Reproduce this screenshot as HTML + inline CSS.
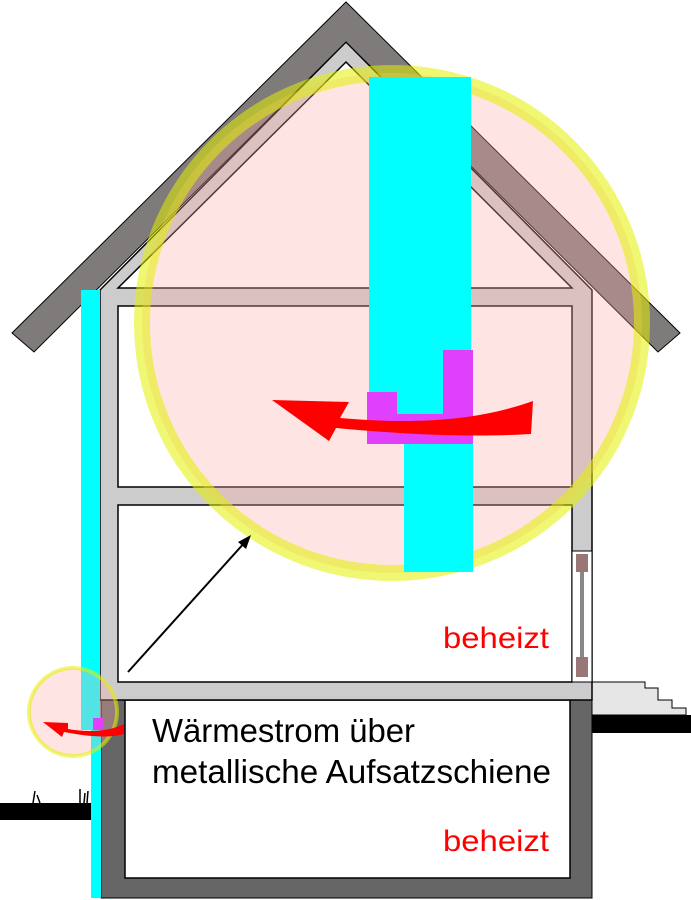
<!DOCTYPE html>
<html><head><meta charset="utf-8"><style>
html,body{margin:0;padding:0;background:#fff}
svg{display:block}
</style></head><body>
<svg width="691" height="900" viewBox="0 0 691 900" xmlns="http://www.w3.org/2000/svg">
<!-- ground -->
<rect x="0" y="803" width="92" height="17" fill="#000"/>
<path d="M33,803 l2,-12 M37,795 l3,8 M80,803 l0,-14 M84,803 l1,-10 M87,803 l1,-12" stroke="#000" stroke-width="1.5"/>
<rect x="592" y="715" width="99" height="18" fill="#000"/>
<path d="M592,682 L645,682 L645,688 L658,688 L658,700 L672,700 L672,708 L686,708 L686,715 L592,715 Z" fill="#e6e6e6" stroke="#000" stroke-width="1"/>
<!-- basement -->
<rect x="101" y="700" width="491" height="198" fill="#666" stroke="#000" stroke-width="1"/>
<rect x="125" y="700" width="445" height="178" fill="#fff" stroke="#000" stroke-width="1.5"/>
<!-- gable frame -->
<path d="M100,700 L100,290 L346,42 L592,290 L592,700 Z" fill="#ccc" stroke="#000" stroke-width="1.5"/>
<path d="M118,288 L346,62 L572,288 Z" fill="#fff" stroke="#000" stroke-width="1.5"/>
<rect x="118" y="306" width="454" height="181" fill="#fff" stroke="#000" stroke-width="1.5"/>
<rect x="118" y="505" width="454" height="177" fill="#fff" stroke="#000" stroke-width="1.5"/>
<!-- window -->
<rect x="572" y="551" width="20" height="131" fill="#fff" stroke="#000" stroke-width="1"/>
<rect x="576" y="554" width="12" height="18" fill="#977"/>
<rect x="576" y="657" width="12" height="20" fill="#977"/>
<rect x="580" y="572" width="4" height="85" fill="#888"/>
<!-- roof -->
<path d="M12,333 L346,2 L680,333 L658,352 L346,42 L34,352 Z" fill="#7f7b7b" stroke="#000" stroke-width="1"/>
<!-- left insulation -->
<rect x="81" y="290" width="19" height="440" fill="#0ff"/>
<rect x="91" y="728" width="10" height="170" fill="#0ff"/>
<!-- big circle -->
<circle cx="392" cy="323" r="250" fill="rgba(255,170,170,0.32)" stroke="rgba(228,240,0,0.55)" stroke-width="16"/>
<!-- central column -->
<rect x="369" y="77" width="102" height="340" fill="#0ff"/>
<rect x="404" y="440" width="69" height="132" fill="#0ff"/>
<path d="M367,392 L397,392 L397,414 L443,414 L443,350 L473,350 L473,444 L367,444 Z" fill="#e040fb"/>
<!-- big red arrow -->
<path d="M533,401 C480,420 420,425 340,418 L349,402 L272,400 L329,441 L336,428 C420,436 480,437 531,434 Z" fill="#f00"/>
<!-- small circle -->
<circle cx="73" cy="712" r="44" fill="rgba(255,170,170,0.32)" stroke="rgba(228,240,0,0.55)" stroke-width="4"/>
<rect x="93" y="718" width="10" height="12" fill="#e040fb"/>
<path d="M124,724 C110,731 90,733 68,729 L68,723 L43,722 L62,737 L64,732 C90,737 110,738 124,734 Z" fill="#f00"/>
<!-- black arrow -->
<line x1="128" y1="672" x2="246" y2="541" stroke="#000" stroke-width="2"/>
<path d="M251,535 L238,542 L246,549 Z" fill="#000"/>
<!-- text -->
<g font-family="'Liberation Sans',sans-serif">
<text x="152" y="742" font-size="33" fill="#000" textLength="263" lengthAdjust="spacingAndGlyphs">Wärmestrom über</text>
<text x="152" y="783" font-size="33" fill="#000" textLength="399" lengthAdjust="spacingAndGlyphs">metallische Aufsatzschiene</text>
<text x="443" y="648" font-size="30" fill="#f00" textLength="106" lengthAdjust="spacingAndGlyphs">beheizt</text>
<text x="443" y="851" font-size="30" fill="#f00" textLength="106" lengthAdjust="spacingAndGlyphs">beheizt</text>
</g>
</svg>
</body></html>
